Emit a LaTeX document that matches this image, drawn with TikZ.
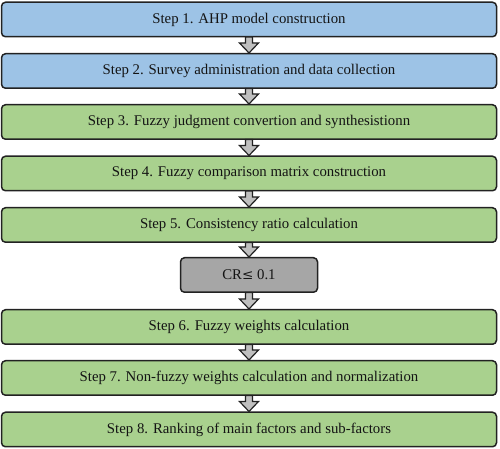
\documentclass[tikz,border=0pt]{standalone}
\usepackage{fontspec}
\setmainfont{Liberation Serif}
\newfontfamily\symfont{DejaVu Serif}
\usetikzlibrary{calc}
\definecolor{bluefill}{HTML}{9DC3E6}
\definecolor{greenfill}{HTML}{A9D18E}
\definecolor{grayfill}{HTML}{A6A6A6}
\definecolor{arrfill}{HTML}{BFBFBF}
\definecolor{edge}{HTML}{222222}
\tikzset{
  stepbox/.style={draw=edge, line width=1.5pt, rounded corners=4pt, minimum width=495pt, minimum height=34.5pt, inner sep=0pt, font=\rmfamily\fontsize{14.8}{16}\selectfont, text=black!92},
  bluebox/.style={stepbox, fill=bluefill},
  greenbox/.style={stepbox, fill=greenfill},
  crbox/.style={stepbox, fill=grayfill, minimum width=137pt},
  blockarr/.style={draw=edge, line width=1.2pt, fill=arrfill, line join=miter}
}
\newcommand{\blockarrow}[2]{%
  \path[blockarr] let \p1=(#1.south), \p2=(#2.north) in
    (\x1-3.5pt,\y1+0.5pt) -- (\x1+3.5pt,\y1+0.5pt) -- (\x1+3.5pt,\y2+10pt) -- (\x1+9.5pt,\y2+10pt)
    -- (\x1,\y2) -- (\x1-9.5pt,\y2+10pt) -- (\x1-3.5pt,\y2+10pt) -- cycle;}
\begin{document}
\begin{tikzpicture}[x=1pt,y=1pt]
\useasboundingbox (0,0) rectangle (500,449);
\node[bluebox] (s1) at (249,449-19.5) {Step 1. AHP model construction};
\node[bluebox] (s2) at (249,449-71) {Step 2. Survey administration and data collection};
\node[greenbox] (s3) at (249,449-122) {Step 3. Fuzzy judgment convertion and synthesistionn};
\node[greenbox] (s4) at (249,449-173.5) {Step 4. Fuzzy comparison matrix construction};
\node[greenbox] (s5) at (249,449-225) {Step 5. Consistency ratio calculation};
\node[crbox] (cr) at (249,449-275) {CR{\symfont\fontsize{13.5}{16}\selectfont ≤} 0.1};
\node[greenbox] (s6) at (249,449-327) {Step 6. Fuzzy weights calculation};
\node[greenbox] (s7) at (249,449-378) {Step 7. Non-fuzzy weights calculation and normalization};
\node[greenbox] (s8) at (249,449-429.5) {Step 8. Ranking of main factors and sub-factors};
\blockarrow{s1}{s2}
\blockarrow{s2}{s3}
\blockarrow{s3}{s4}
\blockarrow{s4}{s5}
\blockarrow{s5}{cr}
\blockarrow{cr}{s6}
\blockarrow{s6}{s7}
\blockarrow{s7}{s8}
\end{tikzpicture}
\end{document}
